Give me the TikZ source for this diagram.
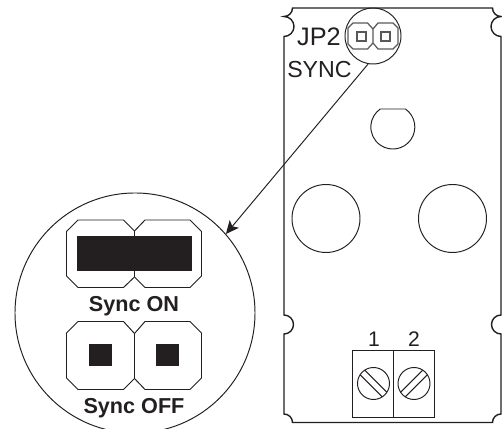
\documentclass[tikz,border=0pt]{standalone}
\usepackage{fontspec}
\setmainfont{Liberation Sans}
\usetikzlibrary{arrows.meta}
\definecolor{ink}{HTML}{231F20}
\tikzset{
    outline/.style={draw=ink, line width=0.55pt},
    board/.style={draw=ink, line width=0.8pt},
    fine/.style={draw=ink!75, line width=0.7pt},
    pad/.style={fill=ink, draw=none},
    hole/.style={circle, outline, inner sep=0pt},
    caption/.style={anchor=base, inner sep=0pt, text=ink},
    pointer/.style={draw=ink, line width=0.55pt, -{Stealth[length=0.26cm,width=0.24cm,inset=0.06cm]}}
}
\begin{document}
\begin{tikzpicture}
        \useasboundingbox (0, 0) rectangle (10.04, 8.58);

        \draw[board] (5.85, 8.42) -- (9.85, 8.42) arc[start angle=180, end angle=270, radius=0.17]
            arc[start angle=90, end angle=270, radius=0.2] -- (10.02, 2.28)
            arc[start angle=90, end angle=270, radius=0.19] -- (10.02, 0.30)
            arc[start angle=90, end angle=180, radius=0.17] -- (5.85, 0.13)
            arc[start angle=0, end angle=90, radius=0.17] -- (5.68, 1.90)
            arc[start angle=-90, end angle=90, radius=0.19] -- (5.68, 7.85)
            arc[start angle=-90, end angle=90, radius=0.2]
            arc[start angle=-90, end angle=0, radius=0.17] -- cycle;

        \node[hole, minimum size=1.36cm] (holeLeft) at (6.52, 4.21) {};
        \node[hole, minimum size=1.36cm] (holeRight) at (9.05, 4.21) {};
        \draw[outline] (8.109, 6.40) arc[start angle=55, end angle=-235, radius=0.44] -- cycle;

        \draw[fine] (7.46, 8.0) -- (7.35, 8.12) -- (7.06, 8.12) -- (6.96, 8.02) -- (6.96, 7.70) -- (7.06, 7.60) -- (7.35, 7.60) -- (7.46, 7.72);
        \draw[fine] (7.46, 8.0) -- (7.56, 8.12) -- (7.86, 8.12) -- (7.96, 8.02) -- (7.96, 7.70) -- (7.86, 7.60) -- (7.56, 7.60) -- (7.46, 7.72) -- cycle;
        \draw[fine] (7.14, 7.76) rectangle (7.32, 7.94);
        \draw[fine] (7.62, 7.76) rectangle (7.80, 7.94);

        \node[hole, minimum size=1.12cm] (lensSmall) at (7.46, 7.86) {};
        \node[hole, minimum size=4.8cm] (lensBig) at (2.70, 2.32) {};
        \draw[pointer] (lensSmall.260) -- (lensBig.41);

        \draw[outline] (2.69, 3.96) -- (2.47, 4.18) -- (1.56, 4.18) -- (1.33, 3.95) -- (1.33, 3.06) -- (1.56, 2.83) -- (2.47, 2.83) -- (2.69, 3.04);
        \draw[outline] (2.69, 3.96) -- (2.90, 4.18) -- (3.80, 4.18) -- (4.03, 3.95) -- (4.03, 3.06) -- (3.80, 2.83) -- (2.90, 2.83) -- (2.69, 3.04) -- cycle;
        \fill[pad] (1.54, 3.16) rectangle (3.83, 3.86);

        \draw[outline] (2.69, 1.91) -- (2.47, 2.15) -- (1.56, 2.15) -- (1.33, 1.92) -- (1.33, 1.02) -- (1.56, 0.79) -- (2.47, 0.79) -- (2.69, 1.01);
        \draw[outline] (2.69, 1.91) -- (2.90, 2.15) -- (3.80, 2.15) -- (4.03, 1.92) -- (4.03, 1.02) -- (3.80, 0.79) -- (2.90, 0.79) -- (2.69, 1.01) -- cycle;
        \fill[pad] (1.78, 1.25) rectangle (2.24, 1.70);
        \fill[pad] (3.12, 1.25) rectangle (3.58, 1.70);

        \draw[outline] (7.05, 0.24) rectangle (8.69, 1.58);
        \draw[outline] (7.87, 0.24) -- (7.87, 1.58);
        \node[hole, minimum size=0.64cm] (screwOne) at (7.47, 0.91) {};
        \node[hole, minimum size=0.64cm] (screwTwo) at (8.28, 0.91) {};
        \draw[outline] (7.295, 1.177) -- (7.737, 0.735);
        \draw[outline] (7.203, 1.085) -- (7.645, 0.643);
        \draw[outline] (8.105, 0.643) -- (8.547, 1.085);
        \draw[outline] (8.013, 0.735) -- (8.455, 1.177);

        \node[caption, font=\fontsize{14.4}{16}\selectfont] (labelJp) at (6.38, 7.66) {JP2};
        \node[caption, font=\fontsize{13.2}{16}\selectfont] (labelSync) at (6.39, 7.02) {SYNC};
        \node[caption, font=\fontsize{12}{14}\selectfont] (labelOne) at (7.48, 1.65) {1};
        \node[caption, font=\fontsize{12}{14}\selectfont] (labelTwo) at (8.28, 1.65) {2};
        \node[caption, font=\fontsize{12.3}{14}\selectfont\bfseries] (labelOn) at (2.68, 2.35) {Sync ON};
        \node[caption, font=\fontsize{12.3}{14}\selectfont\bfseries] (labelOff) at (2.68, 0.30) {Sync OFF};

    \end{tikzpicture}
\end{document}
